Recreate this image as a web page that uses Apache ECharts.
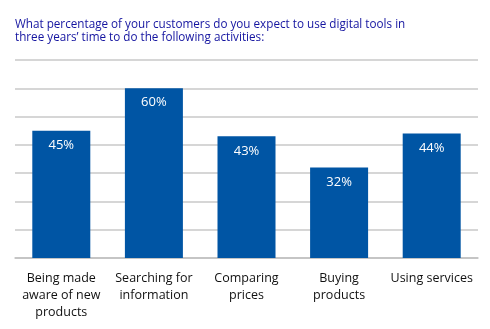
<!DOCTYPE html>
<html><head><meta charset="utf-8">
<script src="https://cdn.jsdelivr.net/npm/echarts@6/dist/echarts.min.js"></script>
<style>html,body{margin:0;padding:0;background:#fff}#c{width:490px;height:329px}</style>
</head><body><div id="c"></div>
<script>
const categories = ["Being made\naware of new\nproducts", "Searching for\ninformation", "Comparing\nprices", "Buying\nproducts", "Using services"];
const values = [45, 60, 43, 32, 44];
const titleText = "What percentage of your customers do you expect to use digital tools in\nthree years\u2019 time to do the following activities:";
const chart = echarts.init(document.getElementById('c'));
chart.setOption({
  animation: false,
  title: { text: titleText, left: 10, top: 13, textStyle: { color: '#1414a0', fontSize: 11.7, fontWeight: 'normal', fontFamily: 'Open Sans', lineHeight: 13 } },
  grid: { left: 15, right: 12, top: 60, bottom: 71 },
  xAxis: { type: 'category', data: categories,
    axisLine: { lineStyle: { color: '#c0c0c0', width: 1.5 } }, axisTick: { show: false },
    axisLabel: { color: '#111', fontSize: 12.5, fontFamily: 'Open Sans', lineHeight: 17, margin: 12, interval: 0 } },
  yAxis: { type: 'value', min: 0, max: 70, interval: 10, axisLabel: { show: false },
    axisLine: { show: false }, axisTick: { show: false },
    splitLine: { lineStyle: { color: '#c8c8c8', width: 1.5 } } },
  series: [{ type: 'bar', data: values, barWidth: 58, itemStyle: { color: '#0055a4' },
    label: { show: true, position: 'insideTop', distance: 8, formatter: '{c}%', color: '#fff', fontSize: 13, fontFamily: 'Open Sans' } }]
});
</script></body></html>
